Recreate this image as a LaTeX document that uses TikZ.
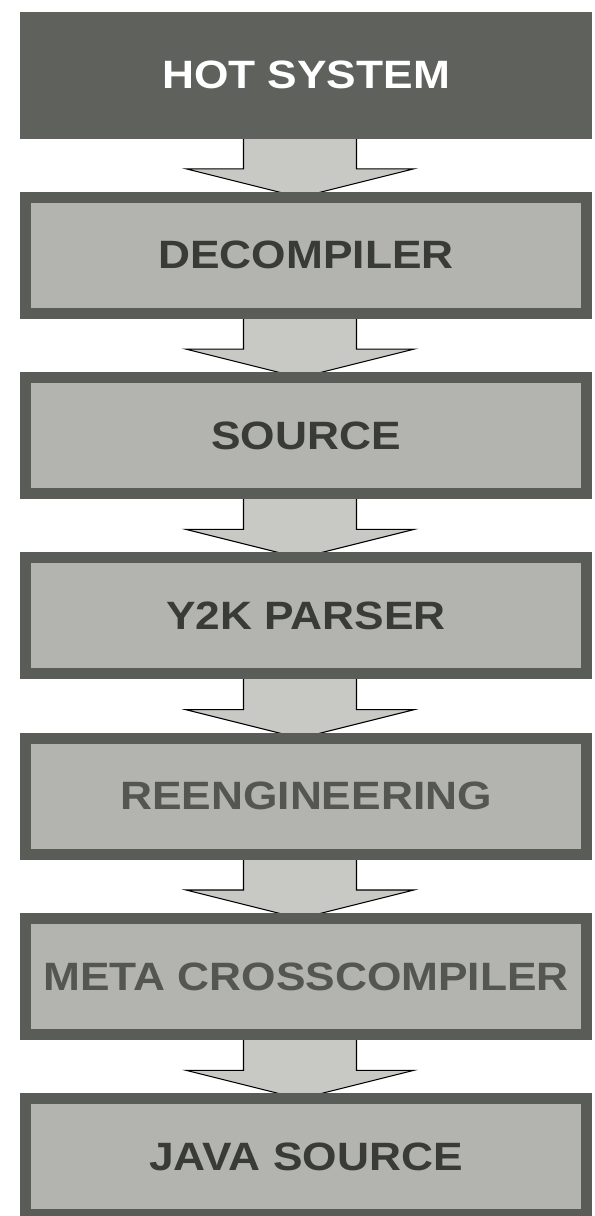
\documentclass[tikz,border=0pt]{standalone}
\usepackage{fontspec}
\setmainfont{Liberation Sans}[FakeStretch=1.12]
\usepackage{xcolor}
\usetikzlibrary{calc, backgrounds}

\definecolor{rim}{HTML}{5A5C57}
\definecolor{boxfill}{HTML}{B3B4AF}
\definecolor{hotfill}{HTML}{5F615C}
\definecolor{txt}{HTML}{393B36}
\definecolor{txtdim}{HTML}{545651}
\definecolor{arrfill}{HTML}{C8C9C4}

\begin{document}
\begin{tikzpicture}[
  stage/.style={
    rectangle, draw=rim, fill=boxfill, line width=0.22cm,
    minimum width=11.22cm, minimum height=2.32cm,
    inner sep=0pt, outer sep=0pt, text=txt,
    font=\fontsize{22.5}{26}\selectfont\bfseries
  },
  dim/.style={stage, text=txtdim},
  hot/.style={stage, draw=hotfill, fill=hotfill, text=white},
  blk/.style={fill=arrfill, draw=black, line width=0.6pt, line join=miter}
]
\useasboundingbox (0,0) rectangle (11.88,-24.32);

% ── Etapas ────────────────────────────────────────────────────
\node[hot]   (hot)  at (6.12, -1.50)  {HOT SYSTEM};
\node[stage] (dec)  at (6.12, -5.106) {DECOMPILER};
\node[stage] (src)  at (6.12, -8.712) {SOURCE};
\node[stage] (y2k)  at (6.12, -12.318) {Y2K PARSER};
\node[dim]   (reen) at (6.12, -15.924) {REENGINEERING};
\node[dim]   (meta) at (6.12, -19.53) {META CROSSCOMPILER};
\node[stage] (java) at (6.12, -23.136) {JAVA SOURCE};

% ── Flechas de bloque ─────────────────────────────────────────
\begin{scope}[on background layer]
\foreach \a/\b in {hot/dec, dec/src, src/y2k, y2k/reen, reen/meta, meta/java}
  \filldraw[blk] ($(\a.south)+(-1.25,0)$) -- ($(\b.north)+(-1.25,0.57)$)
    -- ($(\b.north)+(-2.40,0.57)$) -- ($(\b.north)+(-0.12,0)$)
    -- ($(\b.north)+(2.16,0.57)$) -- ($(\b.north)+(1.01,0.57)$)
    -- ($(\a.south)+(1.01,0)$);
\end{scope}

\end{tikzpicture}
\end{document}
